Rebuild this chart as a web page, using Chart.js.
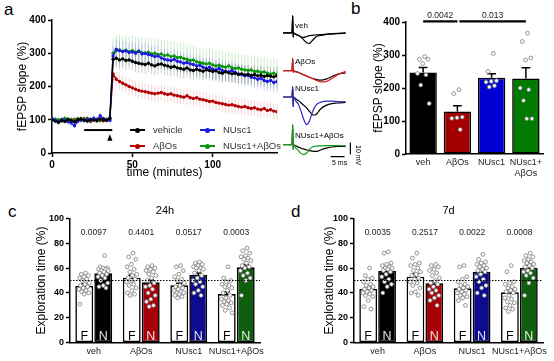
<!DOCTYPE html>
<html>
<head>
<meta charset="utf-8">
<script src="https://cdn.jsdelivr.net/npm/chart.js@4.4.1/dist/chart.umd.min.js"></script>
<style>
  html, body { margin:0; padding:0; background:#fff; }
  body { width:554px; height:361px; position:relative; overflow:hidden; font-family:"Liberation Sans", Arial, sans-serif; color:#000; }
  canvas { position:absolute; }
  .t { position:absolute; white-space:nowrap; line-height:1; }
  .panel { font-size:17px; }
</style>
</head>
<body>
<div class="t panel" style="left:4px;top:1px">a</div>
<div class="t panel" style="left:351px;top:0px">b</div>
<div class="t panel" style="left:8px;top:203px">c</div>
<div class="t panel" style="left:291px;top:203px">d</div>
<script>
// ===================== DATA =====================
// Panel a: fEPSP slope time course (minutes, % of baseline)
const timeMin = [0,2,4,6,8,10,12,14,16,18,20,22,24,26,28,30,32,34,36,38,40,42,44,46,48,50,52,54,56,58,60,62,64,66,68,70,72,74,76,78,80,82,84,86,88,90,92,94,96,98,100,102,104,106,108,110,112,114,116,118,120,122,124,126,128,130,132,134,136,138,140];
const vehicleSlope = [100,96,92,98,95,102,97,94,100,103,98,96,101,99,97,102,100,98,104,282,285,280,283,278,280,276,272,270,268,266,270,265,262,266,268,264,262,258,260,256,254,252,256,250,248,252,249,246,250,248,245,247,242,240,244,241,238,240,236,238,235,237,233,236,232,234,230,233,231,229,232];
const nusc1Slope = [104,98,95,100,97,94,90,82,96,100,98,102,99,105,100,112,103,100,98,292,312,308,305,307,302,304,300,306,298,300,296,294,290,292,286,282,280,278,282,276,274,270,272,268,266,262,264,258,255,258,252,250,254,248,246,244,248,242,238,236,232,234,228,226,222,225,218,215,218,212,215];
const nuscAbosSlope = [98,102,100,96,104,98,101,97,103,99,100,104,98,102,100,97,103,101,106,300,308,310,306,309,305,308,304,306,302,300,303,298,300,296,298,293,295,290,292,287,288,284,282,278,280,274,272,270,268,270,265,262,264,260,258,262,256,254,256,252,250,248,250,245,246,242,244,240,238,240,236];
const abosSlope = [102,98,95,100,104,97,99,101,96,100,103,98,95,100,102,99,97,101,103,238,222,215,210,205,200,196,192,188,186,184,182,180,178,180,182,178,176,178,174,172,170,168,172,166,164,166,162,160,158,155,156,152,150,148,146,144,145,142,140,138,140,136,134,136,132,130,134,128,130,126,124];
// SEM [baseline, after TBS]
const vehicleSem = [8, 28];
const nusc1Sem = [9, 30];
const nuscAbosSem = [8, 45];
const abosSem = [8, 24];
const drugBarMin = [20, 37.5];
const drugBarLevel = 69;
const tbsMinute = 36;
const arrowLevel = 46;

// Panel a: sample traces (ms, mV)
const traceTimeMs = [-3.5, -0.3, 0, 0.15, 0.3, 0.6, 1, 2, 3, 4, 5, 6, 7, 8, 9, 10, 12, 14, 16, 19];
const vehBefore   = [0,0,14.7,-3.6,0,-0.5,-1,-2.2,-3.4,-3.8,-3.0,-2.3,-2.0,-1.7,-1.5,-1.3,-1.0,-0.7,-0.4,0];
const vehAfter    = [0,0,14.7,-3.6,0,-0.5,-1,-2,-3.5,-6,-8.3,-8.8,-6.5,-4,-2.6,-2,-1.3,-0.8,-0.5,-0.2];
const abosBefore  = [0,0,10,-1.5,0,-0.3,-0.8,-1.5,-2.5,-3.5,-4.5,-5.5,-6.3,-7,-7.6,-7.8,-7,-5,-3,-1.8];
const abosAfter   = [0,0,10,-1.5,0,-0.3,-0.8,-1.5,-2.5,-3.5,-4.5,-5.5,-6.5,-7.5,-8.5,-9.2,-9,-6.5,-3.5,-0.6];
const nuscBefore  = [0,0,8.6,-8,0,-0.5,-1.5,-3,-5,-7,-9,-12,-14.5,-15,-13,-10,-7,-5.5,-5,-4.5];
const nuscAfter   = [0,0,8.6,-8,0,-1,-3,-6,-12,-19,-23,-20,-13,-8,-5.5,-4.5,-3.5,-3.5,-3.8,-4];
const comboBefore = [0,0,16.7,-4,0,-0.5,-1,-2,-3,-3.8,-4.5,-5,-5.4,-5.6,-5.4,-4.5,-3,-2,-1.5,-1.4];
const comboAfter  = [0,0,16.7,-4,0,-1,-2.5,-5,-7.5,-8.3,-7,-4,-2,-1.4,-1.2,-1,-0.8,-0.8,-0.9,-1];
const scaleTimeMs = 5;
const scaleVoltMv = 10;

// Panel b: LTP magnitude
const bCategories = ['veh', 'AβOs', 'NUsc1', ['NUsc1+', 'AβOs']];
const bMeans = [247, 129, 231, 229];
const bSem = [15, 17, 12, 32];
const bVeh = [295, 287, 287, 274, 244, 240, 209, 153];
const bAbos = [195, 183, 112, 110, 108, 74];
const bNusc1 = [305, 250, 222, 220, 218, 207, 203];
const bNuscAbos = [366, 341, 291, 285, 200, 195, 162, 107, 107];
const bSigPairs = [[0, 1], [1, 3]];
const bSigLabels = ['0.0042', '0.013'];
const bSigLevel = 402;

// Panels c & d: novel object recognition
const norGroups = ['veh', 'AβOs', 'NUsc1', 'NUsc1+AβOs'];
const c24Fam = [45.6, 52.3, 46.1, 39.1];
const c24New = [55.8, 48.5, 54.4, 60.6];
const c24FamSem = [1.5, 2.0, 1.7, 1.9];
const c24NewSem = [1.5, 1.9, 1.6, 2.2];
const c24P = ['0.0097', '0.4401', '0.0517', '0.0003'];
const c24_veh_F = [56, 55, 54, 53, 52, 51, 50, 48, 47, 46, 45, 44, 43, 42, 41, 40, 39, 31];
const c24_veh_N = [70, 61, 60, 60, 59, 59, 58, 58, 57, 56, 55, 54, 53, 52, 50, 48, 46, 45, 44];
const c24_abos_F = [72, 69, 67, 63, 61, 59, 57, 55, 54, 52, 51, 50, 49, 47, 46, 44, 42, 40, 39, 38];
const c24_abos_N = [62, 61, 60, 59, 58, 57, 55, 54, 52, 50, 48, 46, 45, 43, 40, 38, 35, 33, 30, 29];
const c24_nusc_F = [62, 61, 58, 55, 53, 51, 50, 48, 46, 45, 44, 43, 42, 41, 40, 40, 39, 38, 37, 36];
const c24_nusc_N = [65, 64, 63, 62, 61, 60, 60, 59, 58, 56, 54, 52, 50, 49, 47, 45, 42, 40, 38];
const c24_combo_F = [61, 52, 50, 49, 47, 46, 45, 44, 42, 40, 38, 36, 35, 34, 33, 32, 31, 30, 28, 26, 24];
const c24_combo_N = [76, 74, 72, 70, 69, 68, 67, 66, 64, 62, 61, 60, 58, 56, 54, 52, 50, 38];

const d7Fam = [43.2, 53.1, 43.7, 40.5];
const d7New = [57.6, 47.7, 57.1, 60.3];
const d7FamSem = [1.6, 2.1, 1.8, 2.0];
const d7NewSem = [1.9, 2.0, 1.9, 2.0];
const d7P = ['0.0035', '0.2517', '0.0022', '0.0008'];
const d7_veh_F = [60, 54, 52, 51, 49, 47, 46, 45, 44, 43, 42, 41, 40, 39, 38, 37, 34, 29, 27];
const d7_veh_N = [73, 72, 64, 63, 62, 61, 60, 60, 59, 58, 57, 55, 53, 51, 49, 47, 45, 40];
const d7_abos_F = [72, 68, 64, 63, 62, 60, 58, 57, 55, 54, 52, 51, 49, 48, 46, 44, 41, 40, 38];
const d7_abos_N = [63, 62, 61, 59, 58, 56, 54, 52, 50, 48, 47, 45, 43, 42, 40, 38, 36, 34, 30];
const d7_nusc_F = [62, 61, 53, 51, 49, 47, 46, 45, 44, 43, 42, 41, 40, 39, 38, 37, 36, 34, 30];
const d7_nusc_N = [71, 67, 65, 64, 63, 62, 61, 60, 59, 58, 57, 55, 53, 51, 49, 46, 44, 40, 38];
const d7_combo_F = [62, 57, 49, 48, 47, 45, 44, 43, 42, 41, 40, 38, 36, 35, 33, 32, 30, 28, 27, 25];
const d7_combo_N = [72, 70, 69, 67, 66, 65, 64, 63, 62, 61, 60, 58, 57, 56, 54, 52, 48, 38];
const chanceLevel = 50;
const pLevel = 88.5;

// ===================== RENDERING =====================
const FONT = '"Liberation Sans", Arial, Helvetica, sans-serif';
Chart.defaults.font.family = FONT;
Chart.defaults.color = '#000';
const base = { responsive:false, animation:false, devicePixelRatio:1, events:[],
  plugins:{ legend:{display:false}, tooltip:{enabled:false} } };

function makeCanvas(left, top, w, h){
  const c = document.createElement('canvas');
  c.width = Math.round(w); c.height = Math.round(h);
  c.style.left = left + 'px'; c.style.top = top + 'px';
  c.style.width = Math.round(w) + 'px'; c.style.height = Math.round(h) + 'px';
  document.body.appendChild(c);
  return c;
}
function addText(txt, left, top, size, extra){
  const d = document.createElement('div');
  d.className = 't'; d.textContent = txt;
  d.style.left = left + 'px'; d.style.top = top + 'px'; d.style.fontSize = size + 'px';
  if (extra) Object.assign(d.style, extra);
  document.body.appendChild(d);
  return d;
}
function linAxis(min, max, step, size, fontSize, title, titleSize, keep){
  return {
    type:'linear', min, max,
    ticks:{ stepSize:step, font:{size:fontSize, weight:'bold'}, color:'#000', padding:2 },
    grid:{ drawOnChartArea:false, drawTicks:true, tickLength:4, tickColor:'#000', tickWidth:1.5 },
    border:{ display:true, color:'#000', width:1.5 },
    title: title ? { display:true, text:title, font:{size:titleSize}, color:'#000', padding:0 } : { display:false },
    afterFit(scale){ if (scale.isHorizontal()) scale.height = size; else scale.width = size; },
    afterBuildTicks(scale){ if (keep) scale.ticks = scale.ticks.filter(t => Math.abs(t.value / keep - Math.round(t.value / keep)) < 1e-6); }
  };
}
// group axis: linear index axis whose ticks are the group centres, labelled with category names
function groupAxis(labels, height){
  return {
    type:'linear', min:-0.5, max:labels.length - 0.5, offset:false,
    afterBuildTicks(scale){ scale.ticks = labels.map((_, i) => ({ value:i })); },
    ticks:{ callback:(v) => labels[Math.round(v)], font:{size:9}, color:'#222', padding:3, maxRotation:0, minRotation:0, autoSkip:false },
    grid:{ display:false, drawTicks:false, tickLength:0 },
    border:{ display:true, color:'#000', width:1.5 },
    afterFit(s){ s.height = height; }
  };
}
function jitter(k, spread){ return (((k + 1) * 0.6180339887) % 1 - 0.5) * 2 * spread; }

// ---------- Panel a: time course ----------
const seriesA = [
  { label:'vehicle', values:vehicleSlope, sem:vehicleSem, color:'#000000', semColor:'rgba(110,110,110,0.35)' },
  { label:'NUsc1', values:nusc1Slope, sem:nusc1Sem, color:'#1a1ae0', semColor:'rgba(90,90,230,0.28)' },
  { label:'NUsc1+AβOs', values:nuscAbosSlope, sem:nuscAbosSem, color:'#0a960a', semColor:'rgba(60,170,60,0.25)' },
  { label:'AβOs', values:abosSlope, sem:abosSem, color:'#b40000', semColor:'rgba(210,90,90,0.25)' }
];
const panelAPlugin = {
  id:'panelA',
  beforeDatasetsDraw(chart){
    const {ctx} = chart; const x = chart.scales.x, y = chart.scales.y;
    ctx.save();
    ctx.lineWidth = 1;
    seriesA.slice().reverse().forEach(s => {
      ctx.strokeStyle = s.semColor;
      ctx.beginPath();
      timeMin.forEach((t, i) => {
        const e = t > tbsMinute ? s.sem[1] : s.sem[0];
        const px = x.getPixelForValue(t);
        ctx.moveTo(px, y.getPixelForValue(s.values[i] - e));
        ctx.lineTo(px, y.getPixelForValue(s.values[i] + e));
      });
      ctx.stroke();
    });
    ctx.strokeStyle = '#000'; ctx.lineWidth = 2;
    const by = y.getPixelForValue(drugBarLevel);
    ctx.beginPath();
    ctx.moveTo(x.getPixelForValue(drugBarMin[0]), by);
    ctx.lineTo(x.getPixelForValue(drugBarMin[1]), by);
    ctx.stroke();
    const ax = x.getPixelForValue(tbsMinute), ay = y.getPixelForValue(arrowLevel);
    ctx.fillStyle = '#000';
    ctx.beginPath(); ctx.moveTo(ax, ay - 3.5); ctx.lineTo(ax - 2.6, ay + 3); ctx.lineTo(ax + 2.6, ay + 3); ctx.closePath(); ctx.fill();
    ctx.restore();
  }
};
new Chart(makeCanvas(0, 0, 285, 180), {
  type:'line',
  data:{ datasets: seriesA.map(s => ({
    label:s.label, data: timeMin.map((t, i) => ({x:t, y:s.values[i]})),
    borderColor:s.color, backgroundColor:s.color, borderWidth:1.4,
    pointRadius:1.7, pointBorderWidth:0, pointBackgroundColor:s.color, tension:0
  })) },
  options:{ ...base,
    layout:{ padding:{ left:15, top:20, right:8, bottom:0 } },
    scales:{
      x: linAxis(0, 140, 50, 27, 10, 'time (minutes)', 12, 50),
      y: linAxis(0, 400, 100, 37, 10, 'fEPSP slope (%)', 12)
    }
  },
  plugins:[panelAPlugin]
});
// legend
const legendOrder = [0, 3, 1, 2];
const legendPos = [[130, 130], [130, 146], [200, 130], [200, 146]];
legendOrder.forEach((si, k) => {
  const s = seriesA[si];
  const d = document.createElement('div');
  d.className = 't';
  d.style.left = legendPos[k][0] + 'px'; d.style.top = (legendPos[k][1] - 5) + 'px';
  d.style.fontSize = '9.5px'; d.style.color = '#333';
  d.innerHTML = '<span style="display:inline-block;position:relative;width:15px;height:10px;vertical-align:top;margin-right:8px">' +
    '<span style="position:absolute;left:0;right:0;top:4.3px;height:1.6px;background:' + s.color + '"></span>' +
    '<span style="position:absolute;left:5px;top:2.5px;width:5px;height:5px;border-radius:50%;background:' + s.color + '"></span></span>' +
    '<span style="position:relative;top:0px">' + s.label + '</span>';
  document.body.appendChild(d);
});

// ---------- Panel a: sample traces ----------
const traceSets = [
  { label:'veh', before:vehBefore, after:vehAfter, color:'#000', range:[-11, 16] },
  { label:'AβOs', before:abosBefore, after:abosAfter, color:'#e8141e', range:[-11, 12] },
  { label:'NUsc1', before:nuscBefore, after:nuscAfter, color:'#2a2ab8', range:[-25, 10] },
  { label:'NUsc1+AβOs', before:comboBefore, after:comboAfter, color:'#1a9a1a', range:[-12, 18] }
];
const traceBaselinePx = [32.7, 70, 97, 145];
const traceLabelTop = [22, 58, 85, 132];
const traceLeft = 283, pxPerMs = 2.8, pxPerMv = 1.2, traceXRange = [-3.5, 22];
const scaleBarPlugin = {
  id:'scaleBar',
  afterDatasetsDraw(chart){
    const {ctx} = chart; const x = chart.scales.x, y = chart.scales.y;
    ctx.save(); ctx.strokeStyle = '#000'; ctx.lineWidth = 1.2;
    ctx.beginPath();
    ctx.moveTo(x.getPixelForValue(13.6), y.getPixelForValue(-10));
    ctx.lineTo(x.getPixelForValue(13.6 + scaleTimeMs), y.getPixelForValue(-10));
    ctx.moveTo(x.getPixelForValue(20.7), y.getPixelForValue(-8.3));
    ctx.lineTo(x.getPixelForValue(20.7), y.getPixelForValue(-8.3 + scaleVoltMv));
    ctx.stroke(); ctx.restore();
  }
};
traceSets.forEach((tr, k) => {
  const w = (traceXRange[1] - traceXRange[0]) * pxPerMs;
  const h = (tr.range[1] - tr.range[0]) * pxPerMv;
  const top = traceBaselinePx[k] - tr.range[1] * pxPerMv;
  new Chart(makeCanvas(traceLeft, top, w, h), {
    type:'line',
    data:{ datasets:[
      { data: traceTimeMs.map((t, i) => ({x:t, y:tr.after[i]})), borderColor:tr.color, borderWidth:1.2, pointRadius:0, cubicInterpolationMode:'monotone' },
      { data: traceTimeMs.map((t, i) => ({x:t, y:tr.before[i]})), borderColor:'#000', borderWidth:1.2, pointRadius:0, cubicInterpolationMode:'monotone' }
    ] },
    options:{ ...base, clip:false, layout:{ padding:0 },
      scales:{ x:{ type:'linear', min:traceXRange[0], max:traceXRange[1], display:false },
               y:{ type:'linear', min:tr.range[0], max:tr.range[1], display:false } } },
    plugins: k === traceSets.length - 1 ? [scaleBarPlugin] : []
  });
  addText(tr.label, 295, traceLabelTop[k], 8);
});
addText('5 ms', 332, 159, 7);
addText('10 mV', 348, 145, 7, { transform:'rotate(90deg)', transformOrigin:'left top', left:'362px' });

// ---------- shared bar helpers ----------
function errorBars(chart, meta, vals, sems, capFrac, lw){
  const {ctx} = chart; const y = chart.scales.y;
  ctx.save(); ctx.strokeStyle = '#000'; ctx.lineWidth = lw;
  meta.data.forEach((el, i) => {
    const top = y.getPixelForValue(vals[i] + sems[i]);
    const cap = el.width * capFrac;
    ctx.beginPath();
    ctx.moveTo(el.x, el.y); ctx.lineTo(el.x, top);
    ctx.moveTo(el.x - cap, top); ctx.lineTo(el.x + cap, top);
    ctx.stroke();
  });
  ctx.restore();
}
function scatterDs(points, center, spread, radius){
  return { type:'scatter', order:0,
    data: points.map((v, k) => ({ x: center + jitter(k, spread), y: v })),
    pointRadius:radius, pointBackgroundColor:'#fff', pointBorderColor:'#7a7a7a', pointBorderWidth:0.8 };
}

// ---------- Panel b ----------
const panelBPlugin = {
  id:'panelB',
  afterDatasetDraw(chart, args){
    const ds = chart.data.datasets[args.index];
    if (!ds.semValues) return;
    errorBars(chart, args.meta, ds.meanValues, ds.semValues, 0.16, 1.5);
  },
  afterDatasetsDraw(chart){
    const {ctx} = chart; const x = chart.scales.x, y = chart.scales.y;
    ctx.save();
    const ly = y.getPixelForValue(bSigLevel);
    bSigPairs.forEach((p, k) => {
      const x0 = x.getPixelForValue(p[0]) + (k > 0 ? 2 : 0);
      const x1 = x.getPixelForValue(p[1]);
      ctx.strokeStyle = '#000'; ctx.lineWidth = 2.2;
      ctx.beginPath(); ctx.moveTo(x0, ly); ctx.lineTo(x1, ly); ctx.stroke();
      ctx.fillStyle = '#222'; ctx.font = '8.5px ' + FONT; ctx.textAlign = 'center'; ctx.textBaseline = 'alphabetic';
      ctx.fillText(bSigLabels[k], (x0 + x1) / 2, ly - 3.5);
    });
    ctx.restore();
  }
};
const bColors = ['#000000', '#a50000', '#0000d4', '#007a00'];
const bPoints = [bVeh, bAbos, bNusc1, bNuscAbos];
new Chart(makeCanvas(355, 0, 199, 180), {
  type:'bar',
  data:{ datasets:[
    { data:bMeans.map((v, g) => ({x:g, y:v})), meanValues:bMeans, semValues:bSem, backgroundColor:bColors, borderColor:'#000',
      borderWidth:1.6, borderSkipped:false, grouped:false, barPercentage:1, categoryPercentage:0.8, order:2 },
    ...bPoints.map((pts, g) => scatterDs(pts, g, 0.2, 1.9))
  ] },
  options:{ ...base,
    layout:{ padding:{ left:16, top:22, right:11, bottom:0 } },
    scales:{
      x: groupAxis(bCategories, 26),
      y: linAxis(0, 400, 100, 35, 10, 'fEPSP slope (%)', 12)
    }
  },
  plugins:[panelBPlugin]
});

// ---------- Panels c & d ----------
const norPlugin = {
  id:'nor',
  afterDatasetDraw(chart, args){
    const ds = chart.data.datasets[args.index];
    if (!ds.semValues) return;
    errorBars(chart, args.meta, ds.meanValues, ds.semValues, 0.18, 1.5);
    const {ctx} = chart;
    ctx.save();
    ctx.fillStyle = ds.letterColor; ctx.font = '12.5px ' + FONT; ctx.textAlign = 'center'; ctx.textBaseline = 'alphabetic';
    args.meta.data.forEach(el => ctx.fillText(ds.letter, el.x, el.base - 2.5));
    ctx.restore();
  },
  afterDatasetsDraw(chart, args, opts){
    const {ctx, chartArea} = chart; const x = chart.scales.x, y = chart.scales.y;
    ctx.save();
    const cy = y.getPixelForValue(chanceLevel);
    ctx.strokeStyle = '#000'; ctx.lineWidth = 1; ctx.setLineDash([1.5, 1.5]);
    ctx.beginPath(); ctx.moveTo(chartArea.left, cy); ctx.lineTo(chartArea.right, cy); ctx.stroke();
    ctx.setLineDash([]);
    ctx.fillStyle = '#222'; ctx.font = '8.5px ' + FONT; ctx.textAlign = 'center'; ctx.textBaseline = 'middle';
    const py = y.getPixelForValue(pLevel);
    opts.pvals.forEach((p, i) => ctx.fillText(p, x.getPixelForValue(i), py));
    ctx.fillStyle = '#000'; ctx.font = '11px ' + FONT;
    ctx.fillText(opts.title, (chartArea.left + chartArea.right) / 2, chartArea.top - 7);
    ctx.restore();
  }
};
const norPairSpan = 0.8, halfSlot = norPairSpan / 4;
function buildNOR(cfg){
  const barStyle = { borderColor:'#000', borderWidth:1.6, borderSkipped:false, grouped:false, barPercentage:0.94, categoryPercentage:1, order:2 };
  const datasets = [
    { ...barStyle, data:cfg.fam.map((v, g) => ({x:g - halfSlot, y:v})), meanValues:cfg.fam, semValues:cfg.famSem,
      letter:'F', letterColor:'#000', backgroundColor:'#fff' },
    { ...barStyle, data:cfg.nov.map((v, g) => ({x:g + halfSlot, y:v})), meanValues:cfg.nov, semValues:cfg.novSem,
      letter:'N', letterColor:'rgba(255,255,255,0.88)', backgroundColor:cfg.colors }
  ];
  cfg.famPts.forEach((pts, g) => datasets.push(scatterDs(pts, g - halfSlot, 0.12, 1.9)));
  cfg.novPts.forEach((pts, g) => datasets.push(scatterDs(pts, g + halfSlot, 0.12, 1.9)));
  new Chart(makeCanvas(cfg.left, 200, cfg.w, 161), {
    type:'bar',
    data:{ datasets },
    options:{ ...base,
      plugins:{ ...base.plugins, nor:{ pvals:cfg.pvals, title:cfg.title } },
      layout:{ padding:{ left:cfg.padLeft, top:18.3, right:cfg.padRight, bottom:0 } },
      scales:{
        x: groupAxis(norGroups, 18.3),
        y: linAxis(0, 100, 20, cfg.yWidth, 9, 'Exploration time (%)', 12)
      }
    },
    plugins:[norPlugin]
  });
}
buildNOR({ left:0, w:270, padLeft:34, yWidth:36, padRight:10, title:'24h', pvals:c24P,
  fam:c24Fam, nov:c24New, famSem:c24FamSem, novSem:c24NewSem,
  colors:['#000000', '#a80008', '#0c0c8c', '#0e5e0e'],
  famPts:[c24_veh_F, c24_abos_F, c24_nusc_F, c24_combo_F],
  novPts:[c24_veh_N, c24_abos_N, c24_nusc_N, c24_combo_N] });
buildNOR({ left:285, w:269, padLeft:37, yWidth:32, padRight:11, title:'7d', pvals:d7P,
  fam:d7Fam, nov:d7New, famSem:d7FamSem, novSem:d7NewSem,
  colors:['#000000', '#a80008', '#0c0c8c', '#0e5e0e'],
  famPts:[d7_veh_F, d7_abos_F, d7_nusc_F, d7_combo_F],
  novPts:[d7_veh_N, d7_abos_N, d7_nusc_N, d7_combo_N] });
</script>
</body>
</html>
